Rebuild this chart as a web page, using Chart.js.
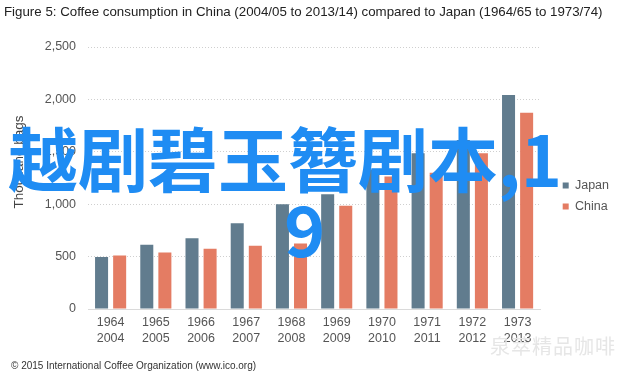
<!DOCTYPE html>
<html>
<head>
<meta charset="utf-8">
<script src="https://cdn.jsdelivr.net/npm/chart.js@4.4.1/dist/chart.umd.min.js"></script>
<style>
  html, body { margin: 0; padding: 0; background: #fff; }
  #wrap { position: relative; width: 640px; height: 377px; overflow: hidden; }
  #chart { position: absolute; left: 0; top: 0; }
  .title { position: absolute; left: 4px; top: 4px; font: 13.3px "Liberation Sans", sans-serif; color: #222; white-space: nowrap; }
  .ytitle { position: absolute; left: 18px; top: 162px; transform: translate(-50%, -50%) rotate(-90deg); font: 13.5px "Liberation Sans", Arial, sans-serif; color: #444; white-space: nowrap; }
  .source { position: absolute; left: 11px; top: 360px; font: 10px "Liberation Sans", Arial, sans-serif; color: #333; white-space: nowrap; }
  .mark { position: absolute; left: 490px; top: 331px; font: 20px "Noto Sans CJK SC", sans-serif; color: #e6e6e6; letter-spacing: 1px; white-space: nowrap; }
  .overlay { position: absolute; font: bold 70px/70px "Noto Sans CJK SC", sans-serif; color: #1f8cf3; white-space: nowrap; }
</style>
</head>
<body>
<div id="wrap">
  <canvas id="chart" width="640" height="377"></canvas>
  <div class="title">Figure 5: Coffee consumption in China (2004/05 to 2013/14) compared to Japan (1964/65 to 1973/74)</div>
  <div class="ytitle">Thousand bags</div>
  <div class="source">© 2015 International Coffee Organization (www.ico.org)</div>
  <div class="mark">泉萃精品咖啡</div>
  <div class="overlay" style="left:8px;top:122px;">越剧碧玉簪剧本,1</div>
  <div class="overlay" style="left:284px;top:192px;">9</div>
</div>
<script>
// years shown on the x axis (Japan on top row, China below)
const japanYears = ['1964', '1965', '1966', '1967', '1968', '1969', '1970', '1971', '1972', '1973'];
const chinaYears = ['2004', '2005', '2006', '2007', '2008', '2009', '2010', '2011', '2012', '2013'];

// consumption, thousand bags
const japanValues = [495, 612, 676, 819, 1000, 1095, 1330, 1485, 1612, 2043];
const chinaValues = [510, 539, 574, 603, 625, 986, 1265, 1300, 1485, 1873];

const yTicks = [0, 500, 1000, 1500, 2000, 2500];

const labels = japanYears.map((y, i) => [y, chinaYears[i]]);

// nudge the legend a bit right/up like in the original figure
const legendShift = {
  id: 'legendShift',
  afterLayout(chart) {
    const lg = chart.legend;
    lg.left += 14; lg.right += 14;
    lg.top -= 2; lg.bottom -= 2;
  }
};

const data = {
  labels: labels,
  datasets: [{
    label: 'Japan',
    data: japanValues,
    backgroundColor: '#617c8e',
    barPercentage: 0.72,
    categoryPercentage: 0.8
  }, {
    label: 'China',
    data: chinaValues,
    backgroundColor: '#e47c63',
    barPercentage: 0.72,
    categoryPercentage: 0.8
  }]
};

const config = {
  type: 'bar',
  data: data,
  plugins: [legendShift],
  options: {
    responsive: false,
    animation: false,
    layout: { padding: { left: 6, right: 35, top: 47, bottom: 28 } },
    plugins: {
      tooltip: { enabled: false },
      legend: {
        position: 'right',
        labels: {
          boxWidth: 6,
          boxHeight: 6,
          padding: 8.5,
          color: '#555',
          font: { family: 'Liberation Sans', size: 12.5 }
        }
      }
    },
    scales: {
      x: {
        grid: { display: false, drawTicks: false },
        border: { color: '#dadada' },
        ticks: {
          color: '#555',
          font: { family: 'Liberation Sans', size: 12.5, lineHeight: 1.3 },
          padding: 5,
          maxRotation: 0,
          autoSkip: false
        },
        afterFit(s) { s.height = 40; }
      },
      y: {
        min: 0,
        max: 2500,
        afterBuildTicks(s) { s.ticks = yTicks.map(v => ({ value: v })); },
        grid: { color: '#cfcfcf', drawTicks: false },
        border: { display: false, dash: [1, 2] },
        ticks: {
          color: '#555',
          font: { family: 'Liberation Sans', size: 12.5 },
          padding: 12,
          callback: v => v.toLocaleString('en-US')
        },
        afterFit(s) { s.width = 82; }
      }
    }
  }
};

var chart = new Chart(document.getElementById('chart'), config);
</script>
</body>
</html>
